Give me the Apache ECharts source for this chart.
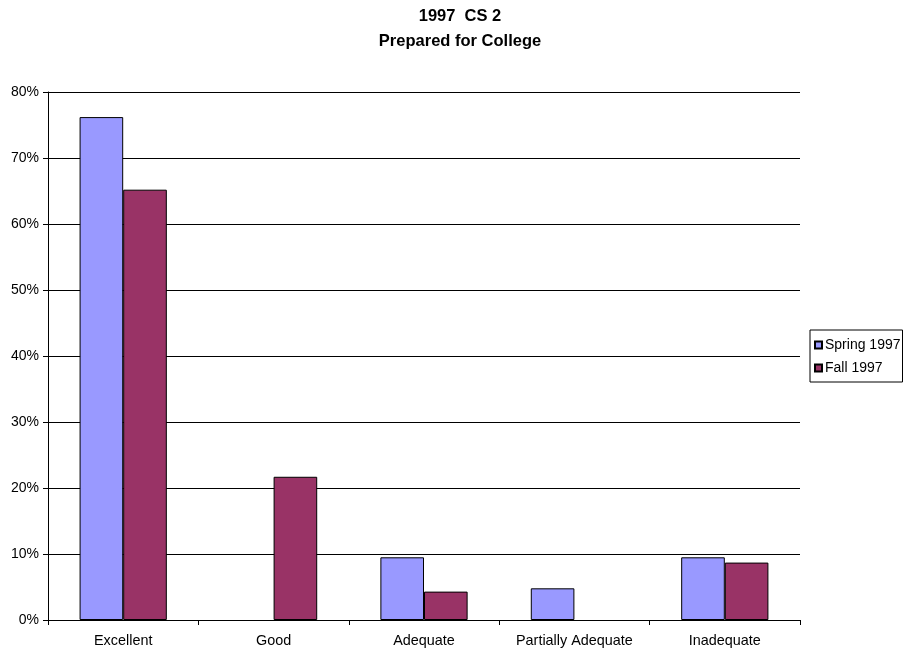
<!DOCTYPE html>
<html>
<head>
<meta charset="utf-8">
<script src="https://cdn.jsdelivr.net/npm/echarts@6/dist/echarts.min.js"></script>
<style>
  html, body { margin: 0; padding: 0; background: #fff; }
  #chart { width: 906px; height: 651px; }
</style>
</head>
<body>
<div id="chart"></div>
<script>
// Ratings of college preparation, CS 2, 1997 (share of respondents)
const categories = ['Excellent', 'Good', 'Adequate', 'Partially Adequate', 'Inadequate'];
const spring1997 = [76.2, 0, 9.5, 4.8, 9.5];
const fall1997 = [65.2, 21.7, 4.3, 0, 8.7];
const yTicks = [0, 10, 20, 30, 40, 50, 60, 70, 80];

const font = 'Liberation Sans, Arial, sans-serif';
// empty categories draw no bar at all
const asBars = arr => arr.map(v => (v === 0 ? '-' : v));

const chart = echarts.init(document.getElementById('chart'));

chart.setOption({
  animation: false,
  backgroundColor: '#fff',
  title: {
    text: '1997  CS 2\nPrepared for College',
    left: 455,
    textAlign: 'center',
    top: -1,
    textStyle: { fontFamily: font, fontSize: 16.5, fontWeight: 'bold', color: '#000', lineHeight: 25 }
  },
  legend: {
    orient: 'vertical',
    left: 810,
    top: 330,
    width: 91,
    padding: [8, 2, 7, 4],
    itemGap: 9,
    itemWidth: 7,
    itemHeight: 7,
    icon: 'rect',
    borderColor: '#000',
    borderWidth: 1,
    textStyle: { fontFamily: font, fontSize: 14, color: '#000', padding: [0, 0, 0, -2] },
    data: ['Spring 1997', 'Fall 1997']
  },
  grid: { left: 48, right: 106, top: 92, bottom: 31, containLabel: false },
  xAxis: {
    type: 'category',
    data: categories,
    axisLine: { lineStyle: { color: '#000', width: 1 } },
    axisTick: { show: true, interval: 0, length: 5, alignWithLabel: false, lineStyle: { color: '#000' } },
    axisLabel: { interval: 0, fontFamily: font, fontSize: 14.4, color: '#000', margin: 14 }
  },
  yAxis: {
    type: 'value',
    min: yTicks[0],
    max: yTicks[yTicks.length - 1],
    interval: 10,
    axisLine: { show: true, lineStyle: { color: '#000', width: 1 } },
    axisTick: { show: true, length: 5, inside: false, lineStyle: { color: '#000' } },
    axisLabel: { fontFamily: font, fontSize: 14, color: '#000', margin: 9, formatter: v => v + '%' },
    splitLine: { show: true, lineStyle: { color: '#000', width: 1 } }
  },
  series: [
    {
      name: 'Spring 1997',
      type: 'bar',
      data: asBars(spring1997),
      barGap: '0%',
      barCategoryGap: '42%',
      itemStyle: { color: '#9999FF', borderColor: '#000', borderWidth: 1 }
    },
    {
      name: 'Fall 1997',
      type: 'bar',
      data: asBars(fall1997),
      itemStyle: { color: '#993366', borderColor: '#000', borderWidth: 1 }
    }
  ]
});
</script>
</body>
</html>
